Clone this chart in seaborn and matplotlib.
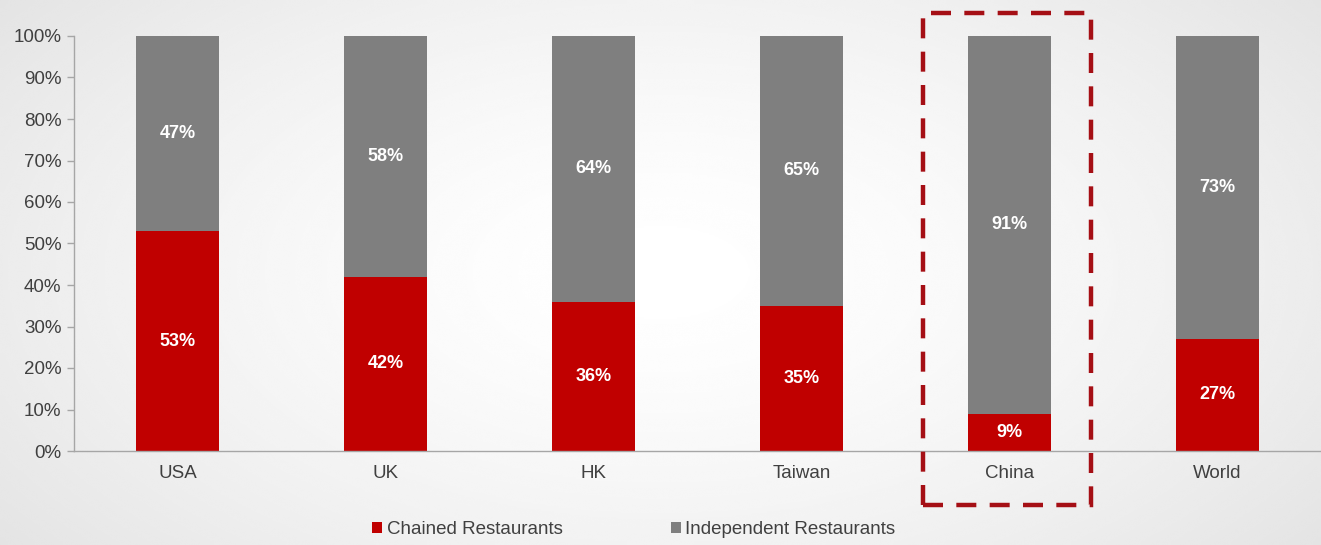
import numpy as np
import pandas as pd
import matplotlib
matplotlib.use("Agg")
import matplotlib.pyplot as plt
from matplotlib.patches import Rectangle
from matplotlib.ticker import FixedLocator, PercentFormatter
import seaborn as sns

regions = ["USA", "UK", "HK", "Taiwan", "China", "World"]
chained = [53, 42, 36, 35, 9, 27]
independent = [47, 58, 64, 65, 91, 73]
series_names = ["Chained Restaurants", "Independent Restaurants"]

RED = "#C00000"
GRAY = "#7F7F7F"
TEXT = "#404040"
AXIS = "#A6A6A6"

sns.set_theme(style="white")
plt.rcParams["font.family"] = ["Liberation Sans", "DejaVu Sans"]

fig = plt.figure(figsize=(13.21, 5.45), dpi=100)

# soft radial backdrop: white in the middle, light gray towards the edges
bg = fig.add_axes([0, 0, 1, 1], zorder=-10)
yy, xx = np.mgrid[-1:1:300j, -1:1:700j]
r = np.sqrt((xx / 1.0) ** 2 + (yy / 1.3) ** 2)
shade = 1.0 - 0.075 * np.clip(r, 0, 1.4) ** 1.5
bg.imshow(shade, cmap="gray", vmin=0, vmax=1, aspect="auto",
          extent=[0, 1, 0, 1], interpolation="bicubic")
bg.set_axis_off()

ax = fig.add_axes([74 / 1321, 1 - 451 / 545, 1 - 74 / 1321, 415 / 545])
ax.patch.set_alpha(0)

df = pd.DataFrame({"region": regions, "chained": chained,
                   "independent": independent})

sns.barplot(data=df, x="region", y="chained", order=regions, color=RED,
            saturation=1, width=0.4, ax=ax, label=series_names[0])
sns.barplot(data=df, x="region", y="independent", order=regions, color=GRAY,
            saturation=1, width=0.4, ax=ax, bottom=df["chained"],
            label=series_names[1])

for patch in ax.patches:
    patch.set_linewidth(0)

# value labels centred in each segment
for i, (c, ind) in enumerate(zip(chained, independent)):
    ax.text(i, c / 2, f"{c}%", ha="center", va="center", color="white",
            fontsize=13, fontweight="bold")
    ax.text(i, c + ind / 2, f"{ind}%", ha="center", va="center",
            color="white", fontsize=13, fontweight="bold")

ax.set_xlim(-0.5, len(regions) - 0.5)
ax.set_ylim(0, 100)
ax.yaxis.set_major_locator(FixedLocator(range(0, 101, 10)))
ax.yaxis.set_major_formatter(PercentFormatter(decimals=0))
ax.set_xlabel("")
ax.set_ylabel("")

# category labels without ticks, ticks at the category boundaries
ax.tick_params(axis="x", which="major", length=0, pad=10,
               labelsize=13.5, labelcolor=TEXT)
ax.set_xticks(np.arange(-0.5, len(regions) - 0.4, 1), minor=True)
ax.tick_params(axis="x", which="minor", length=5, width=1, color=AXIS,
               direction="out")
ax.tick_params(axis="y", length=5, width=1, color=AXIS, direction="out",
               labelsize=13.5, labelcolor=TEXT, pad=4, left=True)

for side in ["top", "right"]:
    ax.spines[side].set_visible(False)
for side in ["left", "bottom"]:
    ax.spines[side].set_color(AXIS)
    ax.spines[side].set_linewidth(1)

# dashed highlight around China
hl = Rectangle((3.587, -13.0), 4.394 - 3.587, 105.5 + 13.0, fill=False,
               edgecolor="#A50F15", linewidth=3.2, linestyle=(0, (4.5, 3.0)),
               clip_on=False, zorder=5)
ax.add_patch(hl)

ax.legend(handles=ax.patches[:1] + ax.patches[len(regions):len(regions) + 1],
          labels=series_names, loc="center", bbox_to_anchor=(0.449, -0.19),
          ncol=2, frameon=False, fontsize=13.5, handlelength=0.5,
          handleheight=0.5, handletextpad=0.25, columnspacing=5.8,
          labelcolor=TEXT)

fig.savefig("out.png", dpi=100)
